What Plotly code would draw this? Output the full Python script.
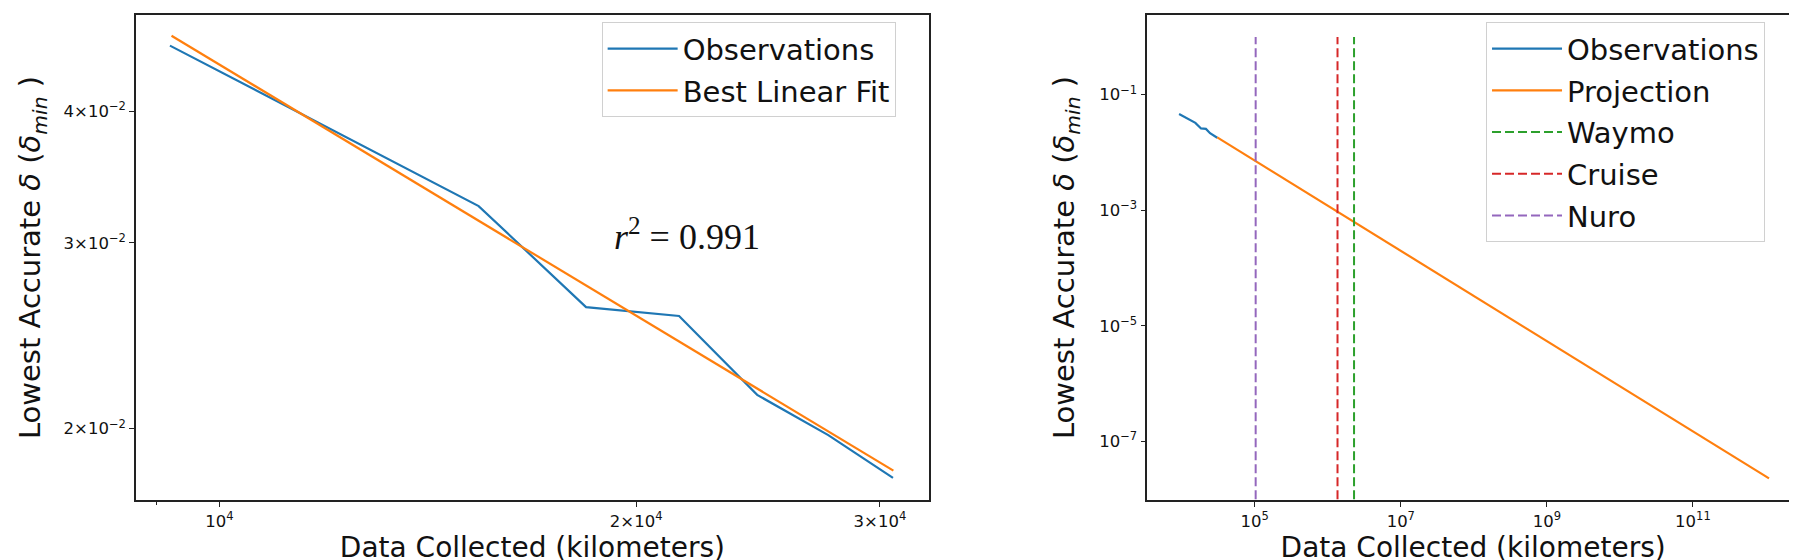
import plotly.graph_objects as go
from plotly.subplots import make_subplots

# Observed lowest accurate delta vs. data collected (km)
obs_km = [9209, 15390, 18400, 21480, 24460, 27530, 30660]
obs_delta = [0.04615, 0.03251, 0.02608, 0.02558, 0.02153, 0.01972, 0.01796]

# Best linear fit in log-log space (end points)
fit_km = [9233, 30680]
fit_delta = [0.04716, 0.01825]

# Projection of the fit out to 1e12 km
proj_km = [30660, 1.1e12]
proj_delta = [0.01825, 2.29e-8]

# Fleet mileage of each company
company_names = ["Waymo", "Cruise", "Nuro"]
company_km = [2.29e6, 1.36e6, 1.03e5]
company_colors = ["#2ca02c", "#d62728", "#9467bd"]
vline_span = [1e-8, 1]

# Tick labels
left_xticks = [1e4, 2e4, 3e4]
left_xtext = ["10<sup>4</sup>", "2×10<sup>4</sup>", "3×10<sup>4</sup>"]
left_yticks = [0.02, 0.03, 0.04]
left_ytext = ["2×10<sup>−2</sup>", "3×10<sup>−2</sup>", "4×10<sup>−2</sup>"]
right_xticks = [1e5, 1e7, 1e9, 1e11]
right_xtext = ["10<sup>5</sup>", "10<sup>7</sup>", "10<sup>9</sup>", "10<sup>11</sup>"]
right_yticks = [1e-1, 1e-3, 1e-5, 1e-7]
right_ytext = ["10<sup>−1</sup>", "10<sup>−3</sup>", "10<sup>−5</sup>", "10<sup>−7</sup>"]

BLUE = "#1f77b4"
ORANGE = "#ff7f0e"
FONT = "DejaVu Sans"

fig = make_subplots(rows=1, cols=2)

# Left panel: observations and fit
fig.add_trace(go.Scatter(x=obs_km, y=obs_delta, mode="lines", name="Observations",
                         line=dict(color=BLUE, width=2.2), legend="legend",
                         legendgroup="a"), row=1, col=1)
fig.add_trace(go.Scatter(x=fit_km, y=fit_delta, mode="lines", name="Best Linear Fit",
                         line=dict(color=ORANGE, width=2.2), legend="legend",
                         legendgroup="b"), row=1, col=1)

# Right panel: observations, projection and company mileage
fig.add_trace(go.Scatter(x=obs_km, y=obs_delta, mode="lines", name="Observations",
                         line=dict(color=BLUE, width=2.2), legend="legend2",
                         legendgroup="c"), row=1, col=2)
fig.add_trace(go.Scatter(x=proj_km, y=proj_delta, mode="lines", name="Projection",
                         line=dict(color=ORANGE, width=2.2), legend="legend2",
                         legendgroup="d"), row=1, col=2)
for name, km, color in zip(company_names, company_km, company_colors):
    fig.add_trace(go.Scatter(x=[km, km], y=vline_span, mode="lines", name=name,
                             line=dict(color=color, width=2, dash="9px,4px"),
                             legend="legend2", legendgroup=name), row=1, col=2)

axis_common = dict(
    type="log", showgrid=False, zeroline=False,
    showline=True, linecolor="#222", linewidth=1.5, mirror=True,
    ticks="outside", ticklen=5, tickwidth=1.2, tickcolor="#222",
    tickfont=dict(family=FONT, size=16.5, color="#111"),
    automargin=False,
)
xtitle_font = dict(family=FONT, size=28, color="#111")
ytitle_font = dict(family=FONT, size=29, color="#111")
ytitle = "Lowest Accurate <i>δ</i> (<i>δ<sub>min</sub></i> )"

fig.update_xaxes(axis_common, row=1, col=1, domain=[0, 0.4767],
                 range=[3.9397, 4.5124], tickmode="array",
                 tickvals=left_xticks, ticktext=left_xtext,
                 minor=dict(tickvals=[9000], ticklen=3, tickcolor="#222", ticks="outside"),
                 title=dict(text="Data Collected (kilometers)", font=xtitle_font, standoff=7))
fig.update_yaxes(axis_common, row=1, col=1,
                 range=[-1.7666, -1.3068], tickmode="array",
                 tickvals=left_yticks, ticktext=left_ytext,
                 title=dict(text=ytitle, font=ytitle_font, standoff=14))
fig.update_xaxes(axis_common, row=1, col=2, domain=[0.6081, 1.0],
                 range=[3.5288, 12.452], tickmode="array",
                 tickvals=right_xticks, ticktext=right_xtext,
                 title=dict(text="Data Collected (kilometers)", font=xtitle_font, standoff=7))
fig.update_yaxes(axis_common, row=1, col=2,
                 range=[-8.014, 0.379], tickmode="array",
                 tickvals=right_yticks, ticktext=right_ytext,
                 title=dict(text=ytitle, font=ytitle_font, standoff=16))

# r^2 label on the left panel
fig.add_annotation(x=0.3313, y=0.548, xref="paper", yref="paper",
                   xanchor="center", yanchor="middle",
                   text="<i>r</i><sup>2</sup> = 0.991", showarrow=False,
                   font=dict(family="Liberation Serif", size=36, color="#111"))

legend_common = dict(
    bgcolor="rgba(255,255,255,0.8)", bordercolor="#d0d0d0", borderwidth=1,
    font=dict(family=FONT, size=29, color="#111"),
    xanchor="left", yanchor="top", itemwidth=70, tracegroupgap=1,
)

fig.update_layout(
    width=1797, height=560,
    margin=dict(l=128, r=6, t=7, b=68),
    plot_bgcolor="white", paper_bgcolor="white",
    font=dict(family=FONT, color="#111"),
    legend=dict(legend_common, x=0.280, y=0.985),
    legend2=dict(legend_common, x=0.8118, y=0.985),
)

fig.write_html("out.html")
